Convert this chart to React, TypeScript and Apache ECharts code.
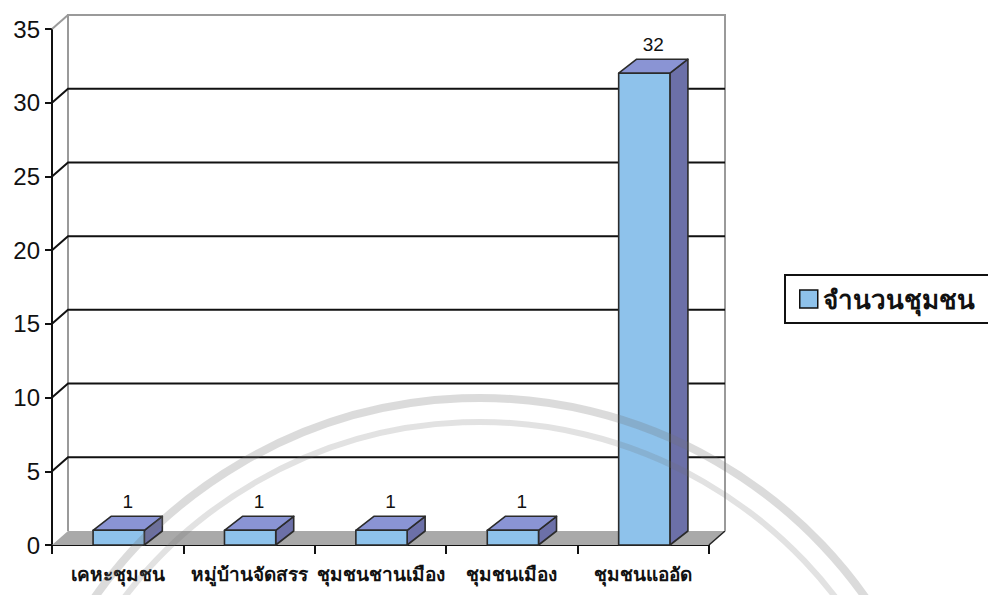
import React, { useEffect, useRef } from "react";
import * as echarts from "echarts";

const categories = ["เคหะชุมชน", "หมู่บ้านจัดสรร", "ชุมชนชานเมือง", "ชุมชนเมือง", "ชุมชนแออัด"];
const communityCounts = [1, 1, 1, 1, 32];
const yTicks = [0, 5, 10, 15, 20, 25, 30, 35];
const seriesName = "จำนวนชุมชน";

const WDX = 16;
const WDY = -14;
const BDX = 18;
const BDY = -14;

const FRONT = "#8ec2eb";
const TOP = "#8a94d4";
const SIDE = "#6c70a8";
const EDGE = "#2b2b2b";

export default function App() {
  const ref = useRef<HTMLDivElement>(null);
  useEffect(() => {
    if (!ref.current) return;
    const chart = echarts.init(ref.current, null, { renderer: "svg" });
    const option: any = {
      animation: false,
      backgroundColor: "#ffffff",
      grid: { left: 52, top: 29, width: 657, height: 516 },
      legend: {
        left: 785,
        top: 275,
        orient: "horizontal",
        padding: [11, 60, 11, 14],
        borderColor: "#111",
        borderWidth: 2,
        itemWidth: 18,
        itemHeight: 18,
        selectedMode: false,
        textStyle: { fontSize: 26, fontWeight: "bold", color: "#111", fontFamily: "Noto Sans, DejaVu Sans, sans-serif" },
        data: [{ name: seriesName, icon: "rect", itemStyle: { color: FRONT, borderColor: "#111", borderWidth: 1.5 } }],
      },
      xAxis: {
        type: "category",
        data: categories,
        boundaryGap: true,
        axisLine: { show: true, lineStyle: { color: "#111", width: 2 } },
        axisTick: { show: true, alignWithLabel: false, length: 9, lineStyle: { color: "#111", width: 2 } },
        axisLabel: { fontSize: 19, fontWeight: "bold", color: "#111", margin: 19, interval: 0, fontFamily: "Noto Sans, DejaVu Sans, sans-serif" },
        splitLine: { show: false },
      },
      yAxis: {
        type: "value",
        min: 0,
        max: 35,
        interval: 5,
        axisLine: { show: true, lineStyle: { color: "#111", width: 2 } },
        axisTick: { show: true, length: 7, lineStyle: { color: "#111", width: 2 } },
        axisLabel: { fontSize: 24, color: "#111", margin: 12, fontFamily: "Liberation Sans, Arial, sans-serif" },
        splitLine: { show: false },
      },
      series: [
        {
          type: "custom",
          name: "backdrop",
          coordinateSystem: "cartesian2d",
          silent: true,
          z: 1,
          data: [[0, 0]],
          renderItem: (params: any, api: any) => {
            const cs = params.coordSys;
            const x0 = cs.x;
            const x1 = cs.x + cs.width;
            const yOf = (v: number) => api.coord([0, v])[1];
            const yFloor = yOf(yTicks[0]);
            const yTop = yOf(yTicks[yTicks.length - 1]);
            const children: any[] = [];
            children.push({
              type: "polygon",
              shape: { points: [[x0, yFloor], [x1, yFloor], [x1 + WDX, yFloor + WDY], [x0 + WDX, yFloor + WDY]] },
              style: { fill: "#a9a9a9", stroke: "none" },
            });
            children.push({
              type: "line",
              shape: { x1: x1, y1: yFloor, x2: x1 + WDX, y2: yFloor + WDY },
              style: { stroke: "#222", lineWidth: 1.5 },
            });
            children.push({
              type: "polyline",
              shape: { points: [[x0 + WDX, yFloor + WDY], [x0 + WDX, yTop + WDY], [x1 + WDX, yTop + WDY], [x1 + WDX, yFloor + WDY]] },
              style: { fill: "none", stroke: "#9a9a9a", lineWidth: 2 },
            });
            children.push({
              type: "line",
              shape: { x1: x0, y1: yTop, x2: x0 + WDX, y2: yTop + WDY },
              style: { stroke: "#9a9a9a", lineWidth: 2 },
            });
            for (let i = 1; i < yTicks.length - 1; i++) {
              const y = yOf(yTicks[i]);
              children.push({
                type: "polyline",
                shape: { points: [[x0, y], [x0 + WDX, y + WDY], [x1 + WDX, y + WDY]] },
                style: { fill: "none", stroke: "#111", lineWidth: 2 },
              });
            }
            return { type: "group", children };
          },
        },
        {
          type: "custom",
          name: seriesName,
          coordinateSystem: "cartesian2d",
          z: 3,
          itemStyle: { color: FRONT },
          data: communityCounts.map((v, i) => [i, v]),
          renderItem: (params: any, api: any) => {
            const i = api.value(0);
            const v = api.value(1);
            const top = api.coord([i, v]);
            const base = api.coord([i, 0]);
            const w = api.size([1, 0])[0] * 0.39;
            const xa = top[0] - w / 2 + 1;
            const xb = xa + w;
            const yt = top[1];
            const yb = base[1];
            const st = { stroke: EDGE, lineWidth: 1.6, lineJoin: "round" };
            return {
              type: "group",
              children: [
                {
                  type: "polygon",
                  shape: { points: [[xb, yt], [xb + BDX, yt + BDY], [xb + BDX, yb + BDY], [xb, yb]] },
                  style: { fill: SIDE, ...st },
                },
                {
                  type: "polygon",
                  shape: { points: [[xa, yt], [xb, yt], [xb + BDX, yt + BDY], [xa + BDX, yt + BDY]] },
                  style: { fill: TOP, ...st },
                },
                {
                  type: "rect",
                  shape: { x: xa, y: yt, width: w, height: yb - yt },
                  style: { fill: FRONT, ...st },
                },
                {
                  type: "text",
                  x: (xa + xb) / 2 + BDX / 2,
                  y: yt + BDY - 15,
                  style: {
                    text: String(v),
                    fontSize: 19,
                    fill: "#111",
                    fontFamily: "Liberation Sans, Arial, sans-serif",
                    align: "center",
                    verticalAlign: "middle",
                  },
                },
              ],
            };
          },
        },
      ],
      graphic: [
        {
          type: "circle",
          silent: true,
          z: 100,
          shape: { cx: 480, cy: 870, r: 472 },
          style: { fill: "none", stroke: "rgba(110,110,110,0.25)", lineWidth: 8 },
        },
        {
          type: "circle",
          silent: true,
          z: 100,
          shape: { cx: 480, cy: 870, r: 448 },
          style: { fill: "none", stroke: "rgba(110,110,110,0.2)", lineWidth: 6 },
        },
      ],
    };
    chart.setOption(option);
    return () => chart.dispose();
  }, []);
  return <div ref={ref} style={{ position: "fixed", left: 0, top: 0, width: 988, height: 595 }} />;
}
